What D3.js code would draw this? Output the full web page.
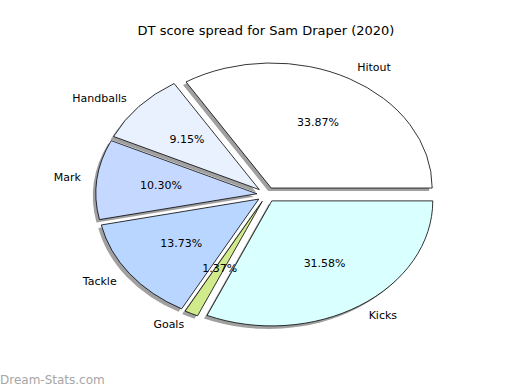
<!DOCTYPE html>
<html>
<head>
<meta charset="utf-8">
<script src="https://cdn.jsdelivr.net/npm/d3@7"></script>
<style>
  body { margin: 0; background: #fff; }
  text { font-family: "DejaVu Sans", sans-serif; fill: #000; }
</style>
</head>
<body>
<svg id="chart" width="520" height="390"></svg>
<script>
// Data
var categories = ["Hitout", "Handballs", "Mark", "Tackle", "Goals", "Kicks"];
var values = [33.87, 9.15, 10.30, 13.73, 1.37, 31.58];
var colors = ["#ffffff", "#e9f1ff", "#c5d8ff", "#b8d6ff", "#d0ea8c", "#d9ffff"];
var title = "DT score spread for Sam Draper (2020)";

var vars = {
  width: 520,
  height: 390,
  cx: 266.5,
  cy: 194.6,
  rx: 161,
  ry: 125,
  explode: 0.06,
  shadow: {dx: -3, dy: 3, color: "#a0a0a0"}
};

var svg = d3.select("#chart");

// data units (radius 1) -> pixels, ellipse because aspect is not equal
var xScale = d3.scaleLinear().domain([-1, 1]).range([vars.cx - vars.rx, vars.cx + vars.rx]);
var yScale = d3.scaleLinear().domain([-1, 1]).range([vars.cy + vars.ry, vars.cy - vars.ry]);

// start at 3 o'clock, go counterclockwise like matplotlib
var pie = d3.pie().sort(null).value(function(d) { return d.value; })
  .startAngle(Math.PI / 2).endAngle(Math.PI / 2 - 2 * Math.PI);

var arcs = pie(categories.map(function(c, i) { return {name: c, value: values[i], color: colors[i]}; }));

var arc = d3.arc().innerRadius(0).outerRadius(1);

arcs.forEach(function(d) {
  var mid = Math.PI / 2 - (d.startAngle + d.endAngle) / 2; // math angle
  d.ux = Math.cos(mid);
  d.uy = Math.sin(mid);
});

function sliceTransform(d, dx, dy) {
  var x = xScale(vars.explode * d.ux) + (dx || 0);
  var y = yScale(vars.explode * d.uy) + (dy || 0);
  return "translate(" + x + "," + y + ") scale(" + vars.rx + "," + vars.ry + ")";
}

// shadows first
svg.append("g").selectAll("path").data(arcs)
  .enter().append("path")
    .attr("d", arc)
    .attr("transform", function(d) { return sliceTransform(d, vars.shadow.dx, vars.shadow.dy); })
    .attr("fill", vars.shadow.color);

svg.append("g").selectAll("path").data(arcs)
  .enter().append("path")
    .attr("d", arc)
    .attr("transform", function(d) { return sliceTransform(d); })
    .attr("fill", function(d) { return d.data.color; })
    .attr("stroke", "#000")
    .attr("stroke-width", 0.8)
    .attr("vector-effect", "non-scaling-stroke")
    .attr("stroke-linejoin", "miter");

// category labels at 1.1 radius
svg.append("g").selectAll("text").data(arcs)
  .enter().append("text")
    .attr("x", function(d) { return xScale((1.1 + vars.explode) * d.ux); })
    .attr("y", function(d) { return yScale((1.1 + vars.explode) * d.uy); })
    .attr("text-anchor", function(d) { return d.ux > 0 ? "start" : "end"; })
    .attr("dominant-baseline", "central")
    .style("font-size", "11px")
    .text(function(d) { return d.data.name; });

// percentages at 0.6 radius
svg.append("g").selectAll("text").data(arcs)
  .enter().append("text")
    .attr("x", function(d) { return xScale((0.6 + vars.explode) * d.ux); })
    .attr("y", function(d) { return yScale((0.6 + vars.explode) * d.uy); })
    .attr("text-anchor", "middle")
    .attr("dominant-baseline", "central")
    .style("font-size", "11px")
    .text(function(d) { return d.data.value.toFixed(2) + "%"; });

svg.append("text")
  .attr("x", vars.width / 2 + 6)
  .attr("y", 30)
  .attr("text-anchor", "middle")
  .attr("dominant-baseline", "central")
  .style("font-size", "13px")
  .text(title);

svg.append("text")
  .attr("x", 0)
  .attr("y", 380)
  .attr("dominant-baseline", "central")
  .style("font-size", "12px")
  .style("fill", "#a6a6a6")
  .text("Dream-Stats.com");
</script>
</body>
</html>
